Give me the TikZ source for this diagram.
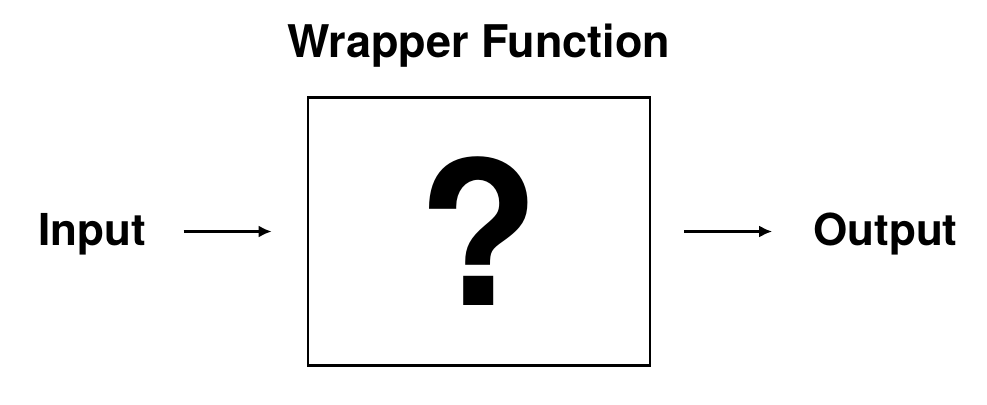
\documentclass[tikz,border=0pt]{standalone}
\usepackage{fontspec}
\setmainfont{TeX Gyre Heros}
\usetikzlibrary{arrows.meta}
\tikzset{
  label text/.style={font=\fontsize{44}{48}\selectfont\bfseries, inner sep=0pt, anchor=base},
  flow arrow/.style={-{Latex[length=13pt,width=12pt]}, line width=2.5pt}
}
\begin{document}
\begin{tikzpicture}[x=1pt, y=1pt]
        \useasboundingbox (0, 0) rectangle (987, -404);
        % Box with the unknown inside
        \node [draw, line width=2.7pt, minimum width=342pt, minimum height=268pt,
               font=\fontsize{200}{200}\selectfont\bfseries] (wrapper) at (479, -231.5) {?};
        \node [label text, font=\fontsize{45}{50}\selectfont\bfseries] (title) at (478.5, -57) {Wrapper Function};
        \node [label text] (input) at (92.5, -245) {Input};
        \node [label text] (output) at (885.5, -245) {Output};
        % Arrows in and out
        \draw [flow arrow, shorten <=37pt, shorten >=35pt] (input.east |- wrapper.west) -- (wrapper.west);
        \draw [flow arrow, shorten <=33pt, shorten >=41pt] (wrapper.east) -- (output.west |- wrapper.east);
    \end{tikzpicture}
\end{document}
